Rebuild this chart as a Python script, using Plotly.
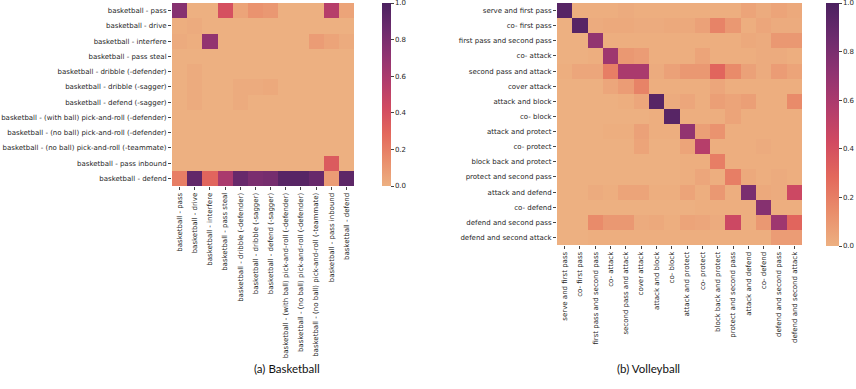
import plotly.graph_objects as go

W, H = 856, 389

# paleta "flare" (0 -> laranja claro, 1 -> roxo escuro)
FLARE = [
    [0.0, "#EDB081"],
    [1 / 7, "#E98D6B"],
    [2 / 7, "#E3685C"],
    [3 / 7, "#D14A61"],
    [4 / 7, "#B13C6C"],
    [5 / 7, "#8F3371"],
    [6 / 7, "#6C2B6D"],
    [1.0, "#4B2160"],
]

basket_labels = [
    "basketball - pass",
    "basketball - drive",
    "basketball - interfere",
    "basketball - pass steal",
    "basketball - dribble (-defender)",
    "basketball - dribble (-sagger)",
    "basketball - defend (-sagger)",
    "basketball - (with ball) pick-and-roll (-defender)",
    "basketball - (no ball) pick-and-roll (-defender)",
    "basketball - (no ball) pick-and-roll (-teammate)",
    "basketball - pass inbound",
    "basketball - defend",
]

basket_z = [
    [0.75, 0.00, 0.00, 0.40, 0.05, 0.12, 0.10, 0.00, 0.00, 0.00, 0.55, 0.05],
    [0.01, 0.02, 0.00, 0.00, 0.00, 0.00, 0.00, 0.00, 0.00, 0.00, 0.00, 0.00],
    [0.02, 0.01, 0.70, 0.00, 0.00, 0.00, 0.00, 0.00, 0.00, 0.08, 0.05, 0.02],
    [0.00, 0.00, 0.00, 0.00, 0.00, 0.00, 0.00, 0.00, 0.00, 0.00, 0.00, 0.00],
    [0.00, 0.02, 0.00, 0.00, 0.00, 0.00, 0.00, 0.00, 0.00, 0.00, 0.00, 0.00],
    [0.00, 0.02, 0.00, 0.00, 0.02, 0.02, 0.03, 0.00, 0.00, 0.00, 0.00, 0.00],
    [0.00, 0.02, 0.00, 0.00, 0.02, 0.00, 0.00, 0.00, 0.00, 0.00, 0.00, 0.00],
    [0.00, 0.00, 0.00, 0.00, 0.00, 0.00, 0.00, 0.00, 0.00, 0.00, 0.00, 0.00],
    [0.00, 0.00, 0.00, 0.00, 0.00, 0.00, 0.00, 0.00, 0.00, 0.00, 0.00, 0.00],
    [0.00, 0.00, 0.00, 0.00, 0.00, 0.00, 0.00, 0.00, 0.00, 0.00, 0.00, 0.00],
    [0.00, 0.00, 0.00, 0.00, 0.00, 0.00, 0.00, 0.00, 0.00, 0.00, 0.35, 0.00],
    [0.20, 0.90, 0.30, 0.60, 0.88, 0.80, 0.82, 0.95, 0.95, 0.88, 0.08, 0.92],
]

volley_labels = [
    "serve and first pass",
    "co- first pass",
    "first pass and second pass",
    "co- attack",
    "second pass and attack",
    "cover attack",
    "attack and block",
    "co- block",
    "attack and protect",
    "co- protect",
    "block back and protect",
    "protect and second pass",
    "attack and defend",
    "co- defend",
    "defend and second pass",
    "defend and second attack",
]

volley_z = [
    [0.95, 0.01, 0.01, 0.01, 0.02, 0.01, 0.01, 0.01, 0.01, 0.01, 0.01, 0.01, 0.05, 0.02, 0.05, 0.03],
    [0.00, 0.95, 0.02, 0.03, 0.03, 0.02, 0.02, 0.03, 0.03, 0.06, 0.18, 0.10, 0.01, 0.04, 0.02, 0.02],
    [0.00, 0.00, 0.70, 0.01, 0.01, 0.01, 0.01, 0.01, 0.01, 0.01, 0.01, 0.01, 0.03, 0.02, 0.10, 0.10],
    [0.00, 0.00, 0.01, 0.65, 0.10, 0.08, 0.01, 0.01, 0.01, 0.05, 0.01, 0.01, 0.01, 0.02, 0.02, 0.01],
    [0.01, 0.04, 0.04, 0.20, 0.60, 0.60, 0.02, 0.06, 0.10, 0.10, 0.30, 0.15, 0.06, 0.02, 0.08, 0.05],
    [0.00, 0.00, 0.00, 0.04, 0.08, 0.18, 0.01, 0.01, 0.01, 0.01, 0.04, 0.01, 0.01, 0.01, 0.01, 0.01],
    [0.00, 0.00, 0.00, 0.00, 0.01, 0.04, 0.95, 0.02, 0.04, 0.01, 0.07, 0.05, 0.07, 0.01, 0.01, 0.15],
    [0.00, 0.00, 0.00, 0.00, 0.00, 0.00, 0.01, 0.95, 0.01, 0.01, 0.01, 0.05, 0.01, 0.01, 0.01, 0.01],
    [0.00, 0.00, 0.00, 0.01, 0.01, 0.06, 0.01, 0.01, 0.70, 0.07, 0.12, 0.01, 0.01, 0.01, 0.01, 0.01],
    [0.00, 0.00, 0.00, 0.00, 0.00, 0.05, 0.00, 0.00, 0.05, 0.55, 0.01, 0.01, 0.01, 0.02, 0.01, 0.01],
    [0.00, 0.00, 0.00, 0.00, 0.00, 0.00, 0.00, 0.00, 0.01, 0.01, 0.20, 0.01, 0.01, 0.01, 0.01, 0.01],
    [0.00, 0.00, 0.00, 0.00, 0.00, 0.00, 0.00, 0.00, 0.01, 0.04, 0.01, 0.20, 0.03, 0.01, 0.02, 0.01],
    [0.00, 0.00, 0.02, 0.01, 0.05, 0.05, 0.01, 0.01, 0.05, 0.01, 0.10, 0.01, 0.80, 0.03, 0.02, 0.45],
    [0.00, 0.00, 0.00, 0.00, 0.00, 0.00, 0.00, 0.00, 0.00, 0.01, 0.01, 0.01, 0.01, 0.75, 0.01, 0.01],
    [0.00, 0.00, 0.15, 0.10, 0.10, 0.02, 0.03, 0.01, 0.05, 0.04, 0.02, 0.45, 0.01, 0.10, 0.65, 0.30],
    [0.00, 0.00, 0.01, 0.01, 0.01, 0.01, 0.01, 0.01, 0.01, 0.01, 0.01, 0.01, 0.01, 0.01, 0.08, 0.08],
]

captions = ["(a) Basketball", "(b) Volleyball"]
colorbar_ticks = [0.0, 0.2, 0.4, 0.6, 0.8, 1.0]


def px_x(v):
    return v / W


def px_y(v):
    return 1 - v / H


TICK_FONT = dict(family="DejaVu Sans, sans-serif", size=7, color="#262626")


def _colorbar(x0, top, bottom, thickness):
    return dict(
        x=px_x(x0),
        xanchor="left",
        y=px_y(top),
        yanchor="top",
        len=(bottom - top) / H,
        thickness=thickness,
        outlinewidth=0,
        ticks="outside",
        ticklen=3,
        tickcolor="#444",
        tickvals=colorbar_ticks,
        ticktext=[f"{v:.1f}" for v in colorbar_ticks],
        tickfont=TICK_FONT,
        ticklabeloverflow="allow",
        xpad=0,
        ypad=0,
    )


fig = go.Figure()
fig.add_trace(
    go.Heatmap(
        z=basket_z,
        x=basket_labels,
        y=basket_labels,
        zmin=0,
        zmax=1,
        colorscale=FLARE,
        xaxis="x",
        yaxis="y",
        colorbar=_colorbar(382, 3, 186, 9),
    )
)
fig.add_trace(
    go.Heatmap(
        z=volley_z,
        x=volley_labels,
        y=volley_labels,
        zmin=0,
        zmax=1,
        colorscale=FLARE,
        xaxis="x2",
        yaxis="y2",
        colorbar=_colorbar(826, 3, 246, 13),
    )
)

axis_common = dict(
    showgrid=False,
    zeroline=False,
    showline=False,
    ticks="outside",
    ticklen=3,
    tickcolor="#444",
    tickfont=TICK_FONT,
    automargin=False,
)

fig.update_layout(
    width=W,
    height=H,
    margin=dict(l=0, r=0, t=0, b=0, autoexpand=False),
    paper_bgcolor="white",
    plot_bgcolor="white",
    xaxis=dict(domain=[px_x(172), px_x(354)], anchor="y", tickangle=-90, **axis_common),
    yaxis=dict(domain=[px_y(186), px_y(3)], anchor="x", autorange="reversed", **axis_common),
    xaxis2=dict(domain=[px_x(557), px_x(802)], anchor="y2", tickangle=-90, **axis_common),
    yaxis2=dict(domain=[px_y(245), px_y(3)], anchor="x2", autorange="reversed", **axis_common),
    annotations=[
        dict(text=captions[0], x=px_x(252), y=px_y(377), xref="paper", yref="paper",
             showarrow=False, font=dict(family="Lato, sans-serif", size=11.5, color="#111")),
        dict(text=captions[1], x=px_x(682), y=px_y(377), xref="paper", yref="paper",
             showarrow=False, font=dict(family="Lato, sans-serif", size=11.5, color="#111")),
    ],
)

# a pagina padrao tem margem de 8px no body; remove para alinhar com a janela
fig.write_html(
    "out.html",
    config={"displayModeBar": False},
    post_script="document.body.style.margin = '0px';",
)
